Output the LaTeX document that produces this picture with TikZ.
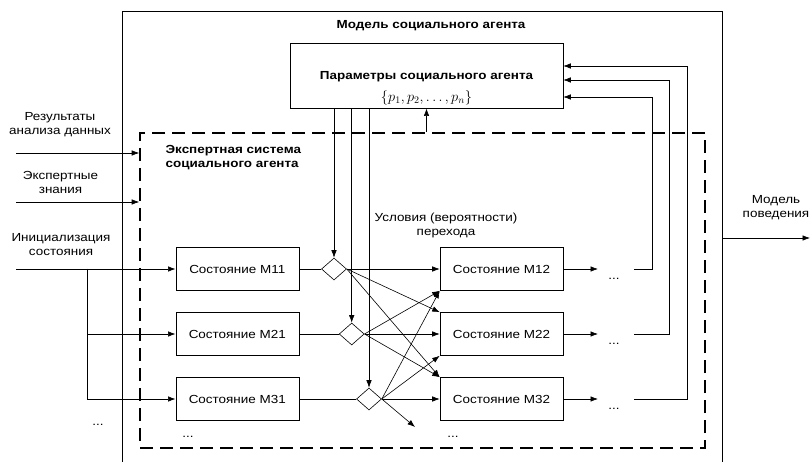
\documentclass[tikz,border=0pt]{standalone}
\usepackage{fontspec}
\setmainfont{Liberation Sans}[FakeStretch=1.15]
\usetikzlibrary{shapes.geometric,arrows.meta}
\newcommand{\diagfont}{\fontsize{11.7}{14}\selectfont}

\begin{document}
\begin{tikzpicture}[x=1pt,y=-1pt,line width=0.6pt]
	\tikzset{
	statebox/.style={draw,minimum width=123pt,minimum height=43pt,inner sep=0pt,font=\diagfont},
	cond/.style={draw,diamond,minimum width=25pt,minimum height=22pt,inner sep=0pt},
	arrow/.style={-{Latex[length=7.5pt,width=5.5pt]}},
	lbl/.style={align=center,font=\diagfont},
	hdr/.style={align=left,font=\diagfont\bfseries}}

	\useasboundingbox (0,0) rectangle (811,462);

	% model frame
	\draw (122.7,470) |- (722,11) -- (722,470);
	\node[hdr] (mtitle) at (431,26) {Модель социального агента};

	% parameters
	\node[draw,minimum width=273pt,minimum height=65pt] (params) at (426.5,75.7) {};
	\node[hdr] (ptitle) at (426.5,77) {Параметры социального агента};
	\node[font=\fontsize{14}{16}\selectfont] (pset) at (426.5,98) {$\{p_1, p_2, \ldots, p_n\}$};

	% expert system
	\node[draw,dash pattern=on 13pt off 7pt,line width=1.6pt,minimum width=565pt,minimum height=315pt] (esys) at (422.5,290.5) {};
	\node[hdr,anchor=west] (etitle) at (162,158) {Экспертная система\\социального агента};
	\draw[arrow] (params.south |- esys.north) -- (params.south);

	% inputs
	\node[lbl] (in1lbl) at (60,125) {Результаты\\анализа данных};
	\node[lbl] (in2lbl) at (60.5,182) {Экспертные\\знания};
	\node[lbl] (in3lbl) at (61,245) {Инициализация\\состояния};
	\coordinate (in1) at (16,153);
	\coordinate (in2) at (16,202);
	\coordinate (in3) at (16,269);
	\draw[arrow] (in1) -- (in1 -| esys.west);
	\draw[arrow] (in2) -- (in2 -| esys.west);

	% states
	\node[statebox] (m11) at (237.3,269) {Состояние M11};
	\node[statebox] (m21) at (237.3,334) {Состояние M21};
	\node[statebox] (m31) at (237.3,399) {Состояние M31};
	\node[statebox] (m12) at (501.5,269) {Состояние M12};
	\node[statebox] (m22) at (501.5,334) {Состояние M22};
	\node[statebox] (m32) at (501.5,399) {Состояние M32};

	\coordinate (br) at (87,269);
	\draw[arrow] (in3) -- (m11);
	\draw[arrow] (br) |- (m21);
	\draw[arrow] (br) |- (m31);
	\node[lbl] (dots0) at (98,425) {...};
	\node[lbl] (dots1) at (188,437) {...};
	\node[lbl] (dots2) at (453,437) {...};

	% transition conditions
	\node[cond] (d1) at (334,269) {};
	\node[cond] (d2) at (351.7,334) {};
	\node[cond] (d3) at (369,399) {};
	\node[lbl] (condlbl) at (446,225.5) {Условия (вероятности)\\перехода};

	\draw (m11) -- (d1);
	\draw (m21) -- (d2);
	\draw (m31) -- (d3);
	\foreach \d in {d1,d2,d3}
		\draw[arrow] (\d.north |- params.south) -- (\d.north);

	\draw[arrow] (d1.east) -- (m12.west);
	\draw[arrow] (d1.east) -- (m22.north west);
	\draw[arrow] (d1.east) -- (m32.north west);
	\draw[arrow] (d2.east) -- (m12.south west);
	\draw[arrow] (d2.east) -- (m22.west);
	\draw[arrow] (d2.east) -- (m32.north west);
	\draw[arrow] (d3.east) -- (m12.south west);
	\draw[arrow] (d3.east) -- (m22.south west);
	\draw[arrow] (d3.east) -- (m32.west);
	\coordinate (dfree) at (415,427);
	\draw[arrow] (d3.east) -- (dfree);

	% outputs back to parameters
	\foreach \m/\y/\x/\py [count=\i] in {m12/269/652/97, m22/334/669/80, m32/399/687/66}{
		\coordinate (o\i) at (598,\y);
		\coordinate (f\i) at (634,\y);
		\coordinate (b\i) at (\x,\py);
		\draw[arrow] (\m) -- (o\i);
		\node[lbl] (dd\i) at (614,\y+10) {...};
		\draw[arrow] (f\i) -| (b\i) -- (b\i -| params.east);
	}

	% behaviour model
	\coordinate (out) at (722,238);
	\coordinate (outend) at (810,238);
	\draw[arrow] (out) -- (outend);
	\node[lbl] (outlbl) at (776,208) {Модель\\поведения};
\end{tikzpicture}
\end{document}
